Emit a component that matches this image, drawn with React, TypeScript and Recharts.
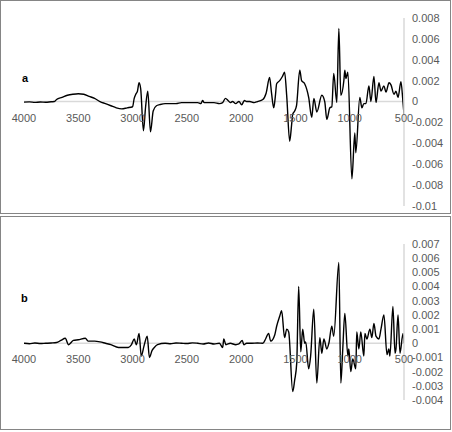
import React from 'react';
import { LineChart, Line, XAxis, YAxis, ReferenceLine } from 'recharts';

const aWavenumbers = [4000, 3950, 3900, 3850, 3800, 3750, 3720, 3700, 3650, 3600, 3550, 3500, 3450, 3400, 3350, 3300, 3250, 3200, 3150, 3100, 3050, 3000, 2985, 2970, 2955, 2940, 2925, 2900, 2880, 2860, 2835, 2810, 2780, 2750, 2700, 2650, 2600, 2550, 2500, 2450, 2400, 2370, 2355, 2340, 2300, 2250, 2200, 2170, 2145, 2120, 2100, 2080, 2050, 2020, 1995, 1970, 1950, 1920, 1880, 1850, 1800, 1770, 1738, 1720, 1700, 1685, 1673, 1645, 1620, 1600, 1580, 1553, 1535, 1525, 1507, 1490, 1460, 1443, 1415, 1378, 1350, 1330, 1303, 1257, 1230, 1211, 1183, 1165, 1147, 1119, 1100, 1082, 1054, 1045, 1035, 1017, 980, 953, 944, 907, 888, 870, 851, 823, 805, 777, 758, 731, 712, 685, 666, 638, 620, 592, 574, 555, 528, 510, 500];
const aValues = [-0.00005, -0.00003, -0.00008, -0.00004, -0.00007, -0.00002, 0.0, 0.0002, 0.0004, 0.0006, 0.0007, 0.00075, 0.0007, 0.0005, 0.0003, 0.0, -0.0002, -0.0004, -0.0006, -0.0007, -0.0006, -0.0005, 0.0003, 0.0007, 0.001, 0.0018, 0.0012, -0.0028, -0.0005, 0.001, -0.0029, -0.0009, -0.0004, -0.0003, -0.0002, -0.0002, -0.0002, -0.0001, -0.0001, -0.0001, -0.0001, -0.0002, 0.0001, -0.0001, -0.0001, -0.0001, -0.0002, -0.0001, 0.0003, 0.0001, -0.0001, 0.0, -0.0002, 0.0, -0.0003, 0.0001, 0.0, 0.0, -0.0001, 0.0, 0.0002, 0.0008, 0.0023, 0.0008, -0.0006, 0.0005, 0.0017, 0.002, 0.0024, 0.0028, 0.0005, -0.0038, -0.0022, -0.0012, -0.0009, -0.0004, 0.003, 0.002, 0.0017, 0.0004, -0.0015, 0.0003, -0.001, 0.0006, 0.0, -0.0017, -0.0006, -0.0005, 0.0027, -0.0001, 0.007, 0.0006, 0.002, 0.003, 0.0022, 0.0028, -0.0074, -0.003, -0.0049, 0.0004, -0.0006, -0.0002, -0.0002, 0.0015, 0.0, 0.0024, -0.0001, 0.0018, 0.001, 0.0015, 0.0009, 0.0018, 0.0016, 0.0007, 0.001, 0.0004, 0.0019, 0.0, -0.0012];

const bWavenumbers = [4000, 3950, 3900, 3850, 3800, 3750, 3700, 3660, 3620, 3590, 3545, 3500, 3435, 3410, 3350, 3300, 3250, 3200, 3130, 3080, 3040, 3010, 2985, 2965, 2940, 2920, 2895, 2865, 2845, 2820, 2800, 2770, 2700, 2650, 2600, 2550, 2500, 2450, 2400, 2350, 2300, 2250, 2200, 2170, 2160, 2140, 2100, 2050, 2020, 1990, 1975, 1950, 1900, 1850, 1800, 1775, 1747, 1728, 1690, 1673, 1645, 1627, 1600, 1580, 1562, 1525, 1507, 1488, 1470, 1451, 1433, 1415, 1405, 1378, 1360, 1331, 1303, 1275, 1257, 1238, 1211, 1192, 1165, 1147, 1100, 1082, 1064, 1045, 1017, 1008, 990, 972, 944, 935, 916, 898, 870, 860, 842, 814, 796, 777, 758, 731, 712, 685, 657, 640, 630, 602, 583, 574, 555, 537, 509, 500];
const bValues = [0.0, -0.00003, 0.00002, -0.00002, 0.0, 0.00002, 0.00005, 0.0002, 0.00035, -0.0001, 0.0002, 0.00025, 0.00035, 0.00015, 0.00015, 0.0001, 0.0, -0.0001, -0.0003, -0.0003, -0.0003, -0.0001, 0.0003, -0.0001, 0.0007, -0.0009, -0.0002, 0.0005, -0.001, -0.0005, -0.0003, -0.0001, 0.0, -0.00003, 0.00002, 0.0, -0.00002, 0.00003, 0.0, -0.00005, 0.00002, -0.00005, 0.0, -0.0003, 0.0003, -0.0001, 0.0, -0.0001, -0.00005, 0.0002, -0.0001, 0.0, 0.0, 0.00002, 0.0, 0.0003, 0.0007, 0.00015, 0.0006, 0.0012, 0.0019, 0.0023, 0.0004, 0.001, 0.0008, -0.0034, -0.0026, -0.0014, 0.004, -0.0006, 0.001, 0.0, 0.0001, -0.0018, -0.0009, 0.0024, -0.0028, 0.0004, -0.0007, 0.0003, -0.0004, 0.0, 0.0012, 0.0005, 0.0057, -0.0028, -0.0004, 0.0021, -0.0009, -0.0004, -0.002, -0.0011, -0.0018, 0.0008, -0.0004, 0.0008, -0.0009, 0.0007, 0.0003, 0.001, 0.0004, 0.0014, 0.0005, 0.0003, 0.001, 0.002, -0.0008, -0.0004, -0.0009, 0.0026, -0.0007, -0.0004, 0.002, -0.0007, 0.0007, 0.0];

const xTicks = [4000, 3500, 3000, 2500, 2000, 1500, 1000, 500];
const aYTicks = [-0.01, -0.008, -0.006, -0.004, -0.002, 0, 0.002, 0.004, 0.006, 0.008];
const bYTicks = [-0.004, -0.003, -0.002, -0.001, 0, 0.001, 0.002, 0.003, 0.004, 0.005, 0.006, 0.007];

const FONT = '"Liberation Sans", Arial, sans-serif';

function fmt(v: number) {
  return String(parseFloat(v.toFixed(4)));
}

type PanelProps = {
  wn: number[];
  vals: number[];
  yTicks: number[];
  label: string;
  top: number;
  height: number;
  mTop: number;
  mBottom: number;
  labelX: number;
  labelY: number;
};

function Panel({ wn, vals, yTicks, label, top, height, mTop, mBottom, labelX, labelY }: PanelProps) {
  const data = wn.map((w, i) => ({ wn: w, v: vals[i] }));
  const yMin = yTicks[0];
  const yMax = yTicks[yTicks.length - 1];
  const plotH = height - mTop - mBottom;
  const zeroY = mTop + (yMax / (yMax - yMin)) * plotH;
  const XTick = (p: any) => (
    <text x={p.x} y={zeroY + 20} textAnchor="middle" fill="#595959" fontSize={11} fontFamily={FONT}>
      {p.payload.value}
    </text>
  );
  return (
    <div
      style={{
        position: 'absolute',
        left: 0,
        top,
        width: 451,
        height: height + 1,
        border: '1px solid #858585',
        boxSizing: 'border-box',
        background: '#fff',
      }}
    >
      <div style={{ position: 'absolute', left: -1, top: -1 }}>
        <LineChart width={450} height={height} data={data} margin={{ top: mTop, bottom: 0, left: 24, right: 0 }}>
          <XAxis
            dataKey="wn"
            type="number"
            domain={[500, 4000]}
            reversed
            ticks={xTicks}
            height={mBottom}
            axisLine={false}
            tickLine={false}
            tick={XTick}
            interval={0}
            allowDataOverflow
          />
          <YAxis
            orientation="right"
            width={46}
            domain={[yMin, yMax]}
            ticks={yTicks}
            interval={0}
            tickLine={false}
            axisLine={{ stroke: '#d9d9d9', strokeWidth: 1.5 }}
            tick={{ fill: '#595959', fontSize: 11, fontFamily: FONT }}
            tickFormatter={fmt}
            allowDataOverflow
          />
          <ReferenceLine y={0} stroke="#d9d9d9" strokeWidth={1.5} />
          <Line
            type="monotone"
            dataKey="v"
            stroke="#000"
            strokeWidth={1.4}
            dot={false}
            isAnimationActive={false}
          />
        </LineChart>
      </div>
      <div
        style={{
          position: 'absolute',
          left: labelX - 1,
          top: labelY - 1,
          fontFamily: FONT,
          fontWeight: 'bold',
          fontSize: 11,
          color: '#000',
          lineHeight: '12px',
        }}
      >
        {label}
      </div>
    </div>
  );
}

export default function App() {
  return (
    <div style={{ position: 'absolute', left: 0, top: 0, width: 452, height: 432, background: '#fff' }}>
      <Panel wn={aWavenumbers} vals={aValues} yTicks={aYTicks} label="a" top={0} height={213} mTop={18} mBottom={7} labelX={22} labelY={72} />
      <Panel wn={bWavenumbers} vals={bValues} yTicks={bYTicks} label="b" top={216} height={213} mTop={28} mBottom={29} labelX={21} labelY={76} />
    </div>
  );
}
